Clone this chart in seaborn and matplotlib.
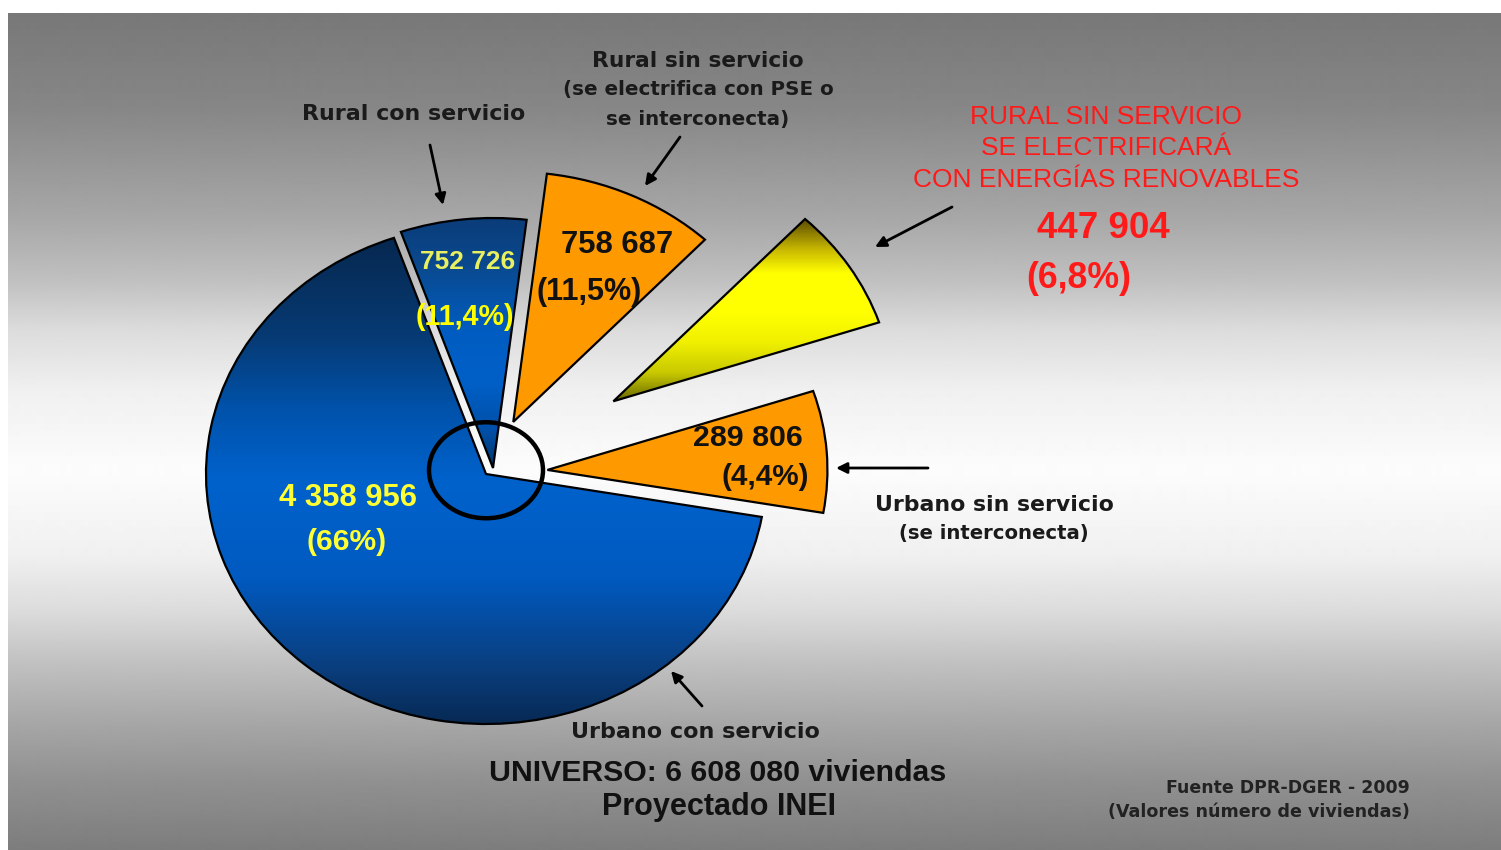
import matplotlib.pyplot as plt
import numpy as np
import seaborn as sns
from matplotlib.colors import LinearSegmentedColormap
from matplotlib.patches import Ellipse

# data
categories = [
    "Rural con servicio",
    "Rural sin servicio (PSE o interconecta)",
    "Rural sin servicio (energías renovables)",
    "Urbano sin servicio",
    "Urbano con servicio",
]
viviendas = [752726, 758687, 447904, 289806, 4358956]
pct_labels = ["(11,4%)", "(11,5%)", "(6,8%)", "(4,4%)", "(66%)"]
# the slide's wedges are not drawn to scale: angular size of each as drawn
slice_deg = [26.1, 36.3, 28.4, 28.3, 240.9]
total_viviendas = 6608080

W, H = 1501, 850
CX, CY = 486, 474  # pie centre in pixels (from top-left)
RX, RY = 280, 250  # pie radii in pixels (slide is stretched horizontally)

sns.set_theme(style="white")
plt.rcParams["font.family"] = ["DejaVu Sans"]


def fx(px):
    return px / W


def fy(py):
    return 1 - py / H


def fmt(v):
    return f"{v:,}".replace(",", " ")


fig = plt.figure(figsize=(W / 100, H / 100), dpi=100)
fig.patch.set_facecolor("white")

# grey -> white -> grey slide background
bg = fig.add_axes([fx(8), 0, 1 - fx(8), fy(13)])
stops_y = [13, 110, 220, 280, 330, 390, 470, 555, 610, 665, 720, 780, 850]
stops_v = [120, 135, 168, 192, 220, 240, 252, 240, 220, 192, 168, 145, 125]
rows = np.interp(np.arange(13, 850), stops_y, stops_v)
bg.imshow(rows[:, None], cmap="gray", vmin=0, vmax=255, aspect="auto",
          interpolation="bilinear")
bg.set_axis_off()

# pie
ax = fig.add_axes([0, 0, 1, 1])
ax.patch.set_alpha(0)
colors = ["#0a4a92", "#ff9900", "#e0e000", "#ff9900", "#0060c8"]
explode = [0.0, 0.23, 0.54, 0.22, 0.0]
wedges, _ = ax.pie(
    slice_deg,
    explode=explode,
    colors=colors,
    startangle=109.2,
    counterclock=False,
    wedgeprops=dict(edgecolor="black", linewidth=1.6, zorder=2),
)
# the first wedge is nudged up-right on the slide, not along its bisector
wedges[0].set_center((7 / RX, 6 / RY))


def shade(wedge, stops):
    # vertical gradient clipped to the wedge
    cmap = LinearSegmentedColormap.from_list("g", stops)
    (x0, y0), (x1, y1) = wedge.get_path().get_extents().get_points()
    X, Y = np.meshgrid(np.linspace(x0, x1, 300), np.linspace(y0, y1, 300))
    im = ax.imshow((Y - y0) / (y1 - y0), extent=(x0, x1, y0, y1),
                   origin="lower", cmap=cmap, vmin=0, vmax=1, aspect="auto",
                   interpolation="bilinear", zorder=1.5)
    im.set_clip_path(wedge)
    wedge.set_facecolor("none")


shade(wedges[4],
      [(0, "#072a55"), (0.12, "#0a3f80"), (0.3, "#005ac0"), (0.5, "#0062cc"),
       (0.65, "#0052aa"), (0.8, "#073a73"), (1, "#062850")])
shade(wedges[0],
      [(0, "#033670"), (0.15, "#0050a8"), (0.35, "#0060c8"), (0.55, "#005cc0"),
       (0.8, "#0a4a90"), (1, "#0b3c78")])
shade(wedges[2],
      [(0, "#6a6a00"), (0.15, "#c8c800"), (0.32, "#f0f000"), (0.48, "#ffff00"),
       (0.7, "#ffff00"), (0.83, "#c8b800"), (1, "#5a4a00")])

ax.add_patch(Ellipse((0, 0.015), 2 * 57 / RX, 2 * 48 / RY, fill=False,
                     ec="black", lw=3.2, zorder=3))

ax.set_aspect("auto")
ax.set_xlim(-CX / RX, (W - CX) / RX)
ax.set_ylim(-(H - CY) / RY, CY / RY)
ax.set_axis_off()

ARIAL = ["Liberation Sans", "DejaVu Sans"]

# value / percent labels inside the wedges
val_pos = [(468, 262), (617, 245), None, (748, 438), (348, 498)]
pct_pos = [(465, 317), (589, 292), None, (765, 477), (347, 542)]
val_size = [19, 22.3, 0, 21.9, 22.3]
pct_size = [20.6, 22, 0, 21.3, 21.6]
val_color = ["#e8f060", "#111111", "", "#111111", "#ffff33"]
pct_color = ["#ffff00", "#111111", "", "#111111", "#ffff33"]
for i, v in enumerate(viviendas):
    if val_pos[i] is None:
        continue
    fig.text(fx(val_pos[i][0]), fy(val_pos[i][1]), fmt(v), ha="center",
             va="center", fontsize=val_size[i], fontweight="bold",
             color=val_color[i], family=ARIAL, zorder=5)
    fig.text(fx(pct_pos[i][0]), fy(pct_pos[i][1]), pct_labels[i], ha="center",
             va="center", fontsize=pct_size[i], fontweight="bold",
             color=pct_color[i], family=ARIAL, zorder=5)

# callouts
dark = "#1a1a1a"
fig.text(fx(414), fy(114), "Rural con servicio", ha="center", va="center",
         fontsize=15.9, fontweight="bold", color=dark)
fig.text(fx(698), fy(61), "Rural sin servicio", ha="center", va="center",
         fontsize=15.7, fontweight="bold", color=dark)
fig.text(fx(698), fy(90), "(se electrifica con PSE o", ha="center",
         va="center", fontsize=14.3, fontweight="bold", color=dark)
fig.text(fx(698), fy(119), "se interconecta)", ha="center", va="center",
         fontsize=14.3, fontweight="bold", color=dark)
fig.text(fx(994), fy(505), "Urbano sin servicio", ha="center", va="center",
         fontsize=15.8, fontweight="bold", color=dark)
fig.text(fx(994), fy(534), "(se interconecta)", ha="center", va="center",
         fontsize=14.1, fontweight="bold", color=dark)
fig.text(fx(695), fy(732), "Urbano con servicio", ha="center", va="center",
         fontsize=16, fontweight="bold", color=dark)

red = "#ff1a1a"
for txt, py in [("RURAL SIN SERVICIO", 117), ("SE ELECTRIFICARÁ", 148),
                ("CON ENERGÍAS RENOVABLES", 180)]:
    fig.text(fx(1106), fy(py), txt, ha="center", va="center", fontsize=19,
             color=red, family=ARIAL)
fig.text(fx(1103), fy(228), fmt(viviendas[2]), ha="center", va="center",
         fontsize=26.5, fontweight="bold", color=red, family=ARIAL)
fig.text(fx(1079), fy(278), pct_labels[2], ha="center", va="center",
         fontsize=25.7, fontweight="bold", color=red, family=ARIAL)

fig.text(fx(718), fy(773), f"UNIVERSO: {fmt(total_viviendas)} viviendas",
         ha="center", va="center", fontsize=21.8, fontweight="bold",
         color="#111111", family=ARIAL)
fig.text(fx(719), fy(807), "Proyectado INEI", ha="center", va="center",
         fontsize=22, fontweight="bold", color="#111111", family=ARIAL)
fig.text(fx(1410), fy(788), "Fuente DPR-DGER - 2009", ha="right",
         va="center", fontsize=12.5, fontweight="bold", color="#222222")
fig.text(fx(1410), fy(812), "(Valores número de viviendas)", ha="right",
         va="center", fontsize=12.6, fontweight="bold", color="#222222")

# arrows
arrows = [((430, 145), (443, 205)), ((680, 137), (645, 186)),
          ((952, 207), (875, 247)), ((928, 468), (836, 468)),
          ((702, 706), (671, 671))]
for (sx, sy), (ex, ey) in arrows:
    ax.annotate("", xy=(fx(ex), fy(ey)), xytext=(fx(sx), fy(sy)),
                xycoords="figure fraction", textcoords="figure fraction",
                arrowprops=dict(arrowstyle="-|>", color="black", lw=2,
                                mutation_scale=16, shrinkA=0, shrinkB=0))

fig.savefig("out.png", dpi=100)
